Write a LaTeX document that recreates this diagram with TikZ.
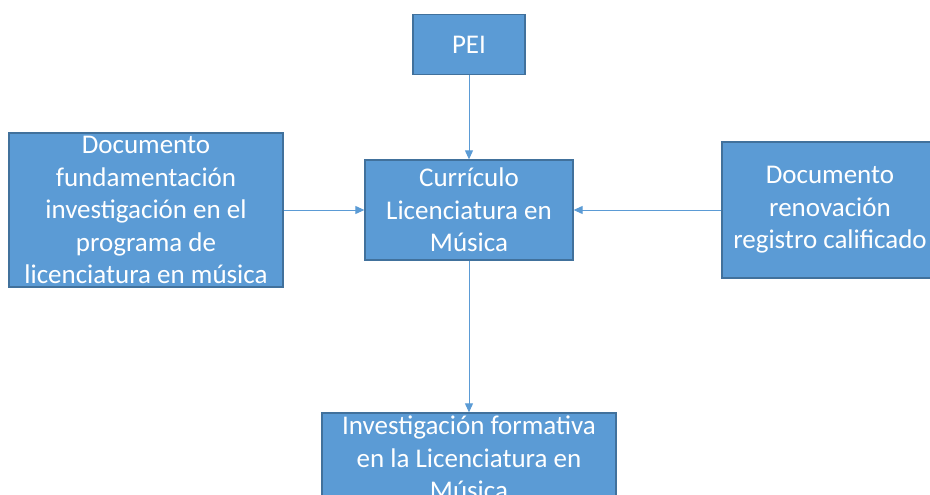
\documentclass[tikz,border=0pt]{standalone}
\usepackage{fontspec}
\setmainfont{Carlito}
\usepackage{tikz}
\usetikzlibrary{positioning,arrows.meta}
\definecolor{boxfill}{HTML}{5B9BD5}
\definecolor{boxline}{HTML}{41719C}
\tikzset{
  bloque/.style={draw=boxline, fill=boxfill, line width=1.3pt, inner sep=0pt},
  texto/.style={text=white, align=center, inner sep=0pt, font=\fontsize{27}{32.5}\selectfont},
  flecha/.style={draw=boxfill, line width=1pt, -{Triangle[length=9pt,width=8pt]}}
}

\begin{document}
\begin{tikzpicture}[x=1pt,y=-1pt]
\useasboundingbox (0,0) rectangle (930,495);
\clip (0,0) rectangle (930,495);
\node[bloque, minimum width=112pt, minimum height=60pt] (node_pei) at (469,44.5) {};
\node[bloque, minimum width=208pt, minimum height=100pt] (node_cur) at (469,210) {};
\node[bloque, minimum width=274pt, minimum height=154pt] (node_left) at (146,210) {};
\node[bloque, minimum width=216pt, minimum height=136pt] (node_right) at (830,210) {};
\node[bloque, minimum width=294pt, minimum height=90pt] (node_inv) at (469,458) {};
\node[texto] at (node_pei.center) {PEI};
\node[texto] at (node_cur.center) {Currículo\\Licenciatura en\\Música};
\node[texto] at (node_left.center) {Documento\\fundamentación\\investigación en el\\programa de\\licenciatura en música};
\node[texto] at (node_right.center) {Documento\\renovación\\registro calificado};
\node[texto] at (node_inv.center) {Investigación formativa\\en la Licenciatura en\\Música};
\draw[flecha] (node_pei) to (node_cur);
\draw[flecha] (node_left) to (node_cur);
\draw[flecha] (node_right) to (node_cur);
\draw[flecha] (node_cur) to (node_inv);
\end{tikzpicture}
\end{document}
